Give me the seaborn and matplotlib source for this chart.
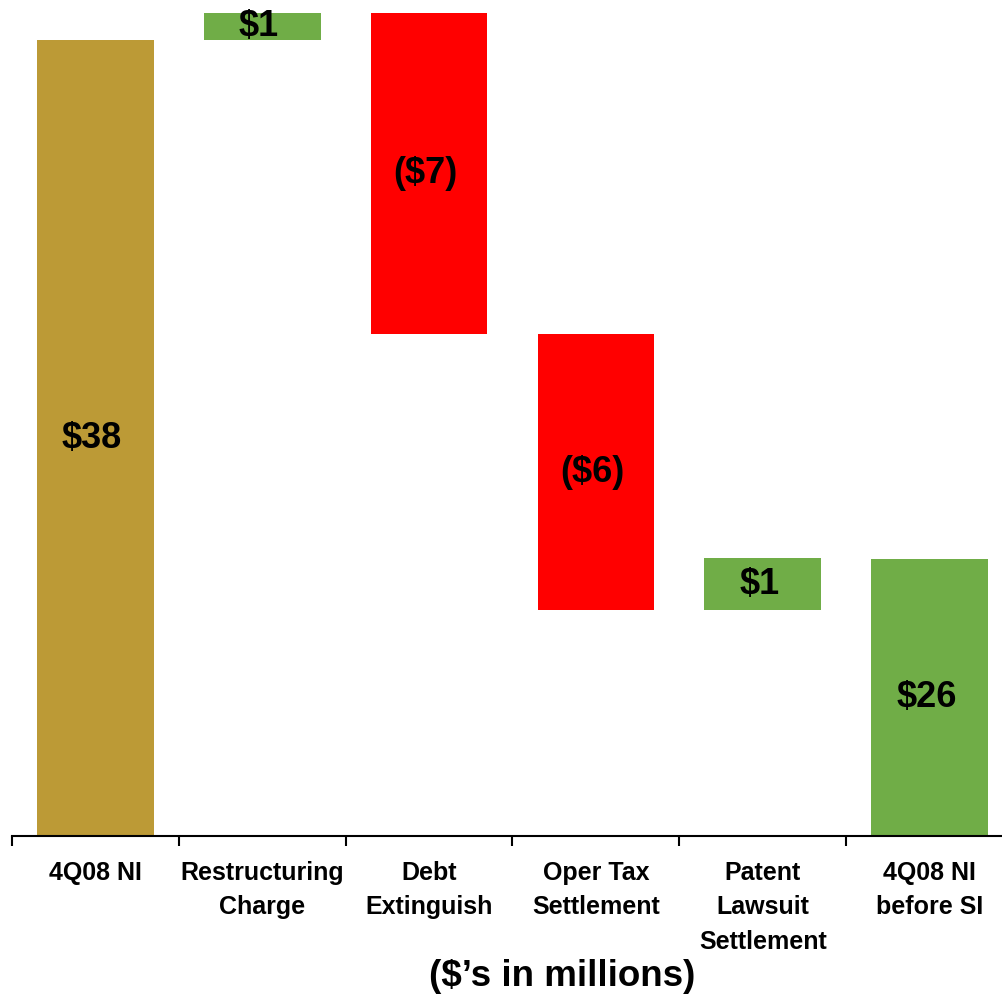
import matplotlib
matplotlib.use("Agg")
import matplotlib.pyplot as plt
import numpy as np
import pandas as pd
import seaborn as sns

# Bridge from 4Q08 net income to net income before special items ($ millions)
categories = [
    "4Q08 NI",
    "Restructuring\nCharge",
    "Debt\nExtinguish",
    "Oper Tax\nSettlement",
    "Patent\nLawsuit\nSettlement",
    "4Q08 NI\nbefore SI",
]
amounts = [37.8, 0.6, -7.17, -6.18, 1.16, 26.2]
is_total = [True, False, False, False, False, True]
axis_floor = 20.0
axis_ceiling = 38.7

gold = "#BC9A36"
green = "#70AD47"
red = "#FF0000"

# Floating bar geometry for the waterfall
bottoms, heights = [], []
running = 0.0
for amt, tot in zip(amounts, is_total):
    if tot:
        bottoms.append(0.0)
        heights.append(amt)
        running = amt
    else:
        start = running
        running = running + amt
        bottoms.append(min(start, running))
        heights.append(abs(amt))

colors = []
for i, (amt, tot) in enumerate(zip(amounts, is_total)):
    if tot and i == 0:
        colors.append(gold)
    elif amt >= 0:
        colors.append(green)
    else:
        colors.append(red)

labels = [f"${a:.0f}" if a >= 0 else f"(${-a:.0f})" for a in amounts]

df = pd.DataFrame({"category": categories, "height": heights})

sns.set_style("white")
plt.rcParams["font.family"] = ["Liberation Sans", "DejaVu Sans"]
plt.rcParams["text.color"] = "black"
plt.rcParams["xtick.color"] = "black"
plt.rcParams["xtick.labelcolor"] = "black"

fig = plt.figure(figsize=(10.03, 9.97), dpi=100)
ax = fig.add_axes([12 / 1003, 161 / 997, 1001 / 1003, 836 / 997])

sns.barplot(data=df, x="category", y="height", bottom=bottoms, width=0.7,
            color=gold, saturation=1, ax=ax)
for patch, c in zip(ax.patches, colors):
    patch.set_facecolor(c)
    patch.set_edgecolor("none")

# Value labels centred in each bar
for i, (b, h, lab) in enumerate(zip(bottoms, heights, labels)):
    lo = max(b, axis_floor)
    ax.text(i - 0.02, (lo + b + h) / 2, lab, ha="center", va="center",
            fontsize=26, fontweight="bold", color="black")

ax.set_xlim(-0.5, len(categories) - 0.5)
ax.set_ylim(axis_floor, axis_ceiling)
ax.set_ylabel("")
ax.set_xlabel("")
ax.set_yticks([])

ax.set_xticks(np.arange(len(categories)))
ax.set_xticklabels(categories, fontsize=18, fontweight="bold",
                   linespacing=1.55, color="black")
ax.tick_params(axis="x", which="major", length=0, pad=18)
ax.set_xticks(np.arange(len(categories) + 1) - 0.5, minor=True)
ax.tick_params(axis="x", which="minor", bottom=True, length=7, width=1.5,
               color="black", direction="out")

for side in ["top", "right", "left"]:
    ax.spines[side].set_visible(False)
ax.spines["bottom"].set_color("black")
ax.spines["bottom"].set_linewidth(1.5)

fig.text(0.561, 0.011, "($\u2019s in millions)", ha="center", va="baseline",
         fontsize=26.5, fontweight="bold", color="black")

fig.savefig("out.png", dpi=100)
